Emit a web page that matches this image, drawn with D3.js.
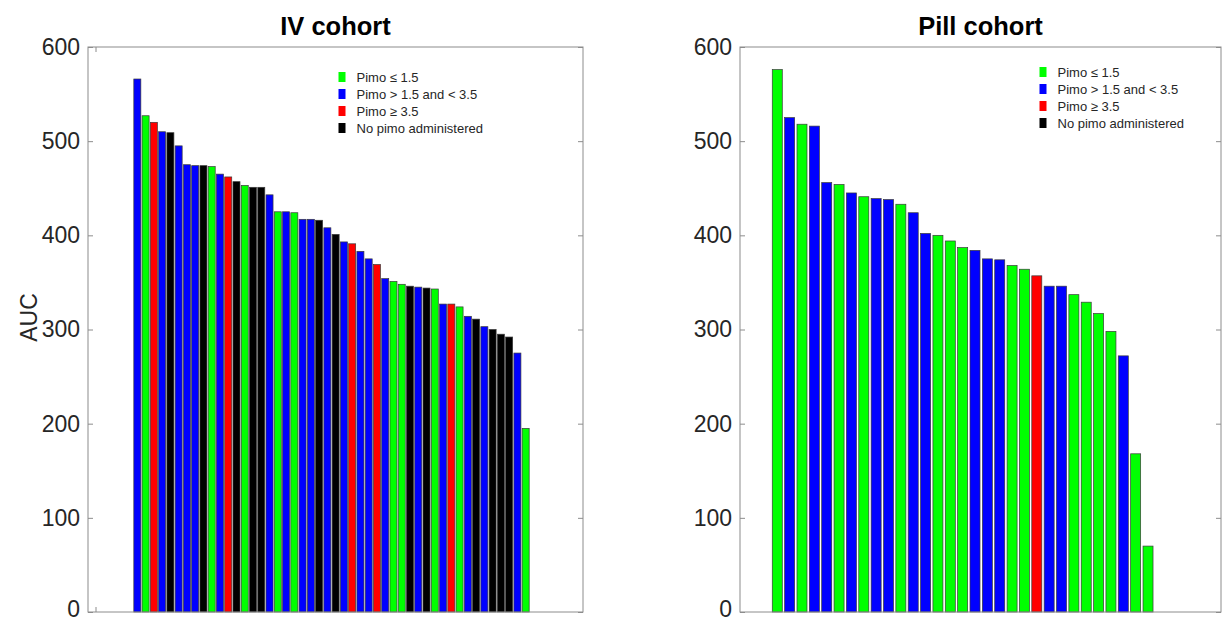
<!DOCTYPE html>
<html>
<head>
<meta charset="utf-8">
<script src="https://cdn.jsdelivr.net/npm/d3@7"></script>
<style>
  html, body { margin: 0; padding: 0; background: #ffffff; }
  svg { display: block; font-family: "Liberation Sans", Arial, Helvetica, sans-serif; }
</style>
</head>
<body>
<svg id="chart" width="1222" height="622"></svg>
<script>
// AUC per patient, sorted descending, with pimo dose group for each bar
const ivValues = [566, 527, 520, 510, 509, 495, 475, 474, 474, 473, 465, 462, 457, 453, 451, 451,
  443, 425, 425, 424, 417, 417, 416, 408, 401, 393, 391, 383, 375, 369, 354, 351, 348, 346, 345, 344,
  343, 327, 327, 324, 314, 311, 303, 300, 295, 292, 275, 195];
const ivGroups = ["mid", "low", "high", "mid", "none", "mid", "mid", "mid", "none", "low", "mid", "high",
  "none", "low", "none", "none", "mid", "low", "mid", "low", "mid", "mid", "none", "mid", "none", "mid",
  "high", "mid", "mid", "high", "mid", "low", "low", "none", "mid", "none", "low", "mid", "high", "low",
  "mid", "none", "mid", "none", "none", "none", "mid", "low"];

const pillValues = [576, 525, 518, 516, 456, 454, 445, 441, 439, 438, 433, 424, 402, 400, 394, 387,
  384, 375, 374, 368, 364, 357, 346, 346, 337, 329, 317, 298, 272, 168, 70];
const pillGroups = ["low", "mid", "low", "mid", "mid", "low", "mid", "low", "mid", "mid", "low", "mid",
  "mid", "low", "low", "low", "mid", "mid", "mid", "low", "low", "high", "mid", "mid", "low", "low",
  "low", "low", "mid", "low", "low"];

const groupKeys = ["low", "mid", "high", "none"];
const groupLabels = ["Pimo \u2264 1.5", "Pimo > 1.5 and < 3.5", "Pimo \u2265 3.5", "No pimo administered"];
const groupColors = ["#00ff00", "#0000ff", "#ff0000", "#000000"];

const yTicks = [0, 100, 200, 300, 400, 500, 600];

const svg = d3.select("#chart");
const color = d3.scaleOrdinal().domain(groupKeys).range(groupColors);
const boxColor = "#8c8c8c";
const textColor = "#262626";

function panel(opts) {
  const { left, right, top, bottom, values, groups, title, barRange, pad, legendX, legendY, ylabel, xTick } = opts;
  const g = svg.append("g");

  const y = d3.scaleLinear().domain([0, 600]).range([bottom, top]);
  const x = d3.scaleBand()
    .domain(d3.range(values.length))
    .range(barRange)
    .paddingInner(pad)
    .paddingOuter(pad / 2);

  // bars
  g.append("g").selectAll("rect")
    .data(values)
    .join("rect")
    .attr("x", (d, i) => x(i))
    .attr("width", x.bandwidth())
    .attr("y", d => y(d))
    .attr("height", d => y(0) - y(d))
    .attr("fill", (d, i) => color(groups[i]))
    .attr("stroke", "#3a3a3a")
    .attr("stroke-width", 0.7);

  // frame
  g.append("rect")
    .attr("x", left).attr("y", top)
    .attr("width", right - left).attr("height", bottom - top)
    .attr("fill", "none").attr("stroke", boxColor).attr("stroke-width", 1);

  // left y axis with inward ticks
  const ax = g.append("g")
    .attr("transform", `translate(${left},0)`)
    .call(d3.axisLeft(y).tickValues(yTicks).tickSizeInner(-5).tickSizeOuter(0).tickPadding(8));
  ax.select(".domain").remove();
  ax.selectAll(".tick line").attr("stroke", boxColor);
  ax.selectAll(".tick text")
    .attr("fill", textColor)
    .attr("dy", d => d === 0 ? "0.18em" : "0.32em")
    .style("font-size", "23px")
    .style("font-family", "'Liberation Sans', Arial, sans-serif");

  // mirrored ticks on the right edge
  const axr = g.append("g")
    .attr("transform", `translate(${right},0)`)
    .call(d3.axisRight(y).tickValues(yTicks).tickSizeInner(-5).tickSizeOuter(0).tickFormat(""));
  axr.select(".domain").remove();
  axr.selectAll(".tick line").attr("stroke", boxColor);

  if (xTick !== undefined) {
    g.append("line").attr("x1", xTick).attr("x2", xTick).attr("y1", bottom).attr("y2", bottom - 5)
      .attr("stroke", boxColor);
    g.append("line").attr("x1", xTick).attr("x2", xTick).attr("y1", top).attr("y2", top + 5)
      .attr("stroke", boxColor);
  }

  // title
  g.append("text")
    .attr("x", (left + right) / 2).attr("y", 35)
    .attr("text-anchor", "middle")
    .attr("fill", "#000")
    .style("font-size", "25.5px")
    .style("font-weight", "bold")
    .text(title);

  if (ylabel) {
    g.append("text")
      .attr("transform", `translate(37,${(top + bottom) / 2 - 12}) rotate(-90)`)
      .attr("text-anchor", "middle")
      .attr("fill", textColor)
      .style("font-size", "23px")
      .text(ylabel);
  }

  // legend
  const lg = g.append("g").attr("transform", `translate(${legendX},${legendY})`);
  const row = lg.selectAll("g")
    .data(groupKeys)
    .join("g")
    .attr("transform", (d, i) => `translate(0,${i * 17})`);
  row.append("rect")
    .attr("x", 0).attr("y", -5)
    .attr("width", 7).attr("height", 10)
    .attr("fill", d => color(d));
  row.append("text")
    .attr("x", 18).attr("y", 0)
    .attr("dy", "0.35em")
    .attr("fill", textColor)
    .style("font-size", "13px")
    .text((d, i) => groupLabels[i]);
}

panel({
  left: 88, right: 583, top: 47, bottom: 612,
  values: ivValues, groups: ivGroups,
  title: "IV cohort",
  barRange: [133.2, 529.8], pad: 0.15,
  legendX: 338.5, legendY: 77,
  ylabel: "AUC",
  xTick: 96
});

panel({
  left: 740, right: 1221, top: 47, bottom: 612,
  values: pillValues, groups: pillGroups,
  title: "Pill cohort",
  barRange: [771.1, 1154.2], pad: 0.19,
  legendX: 1039.5, legendY: 72
});
</script>
</body>
</html>
